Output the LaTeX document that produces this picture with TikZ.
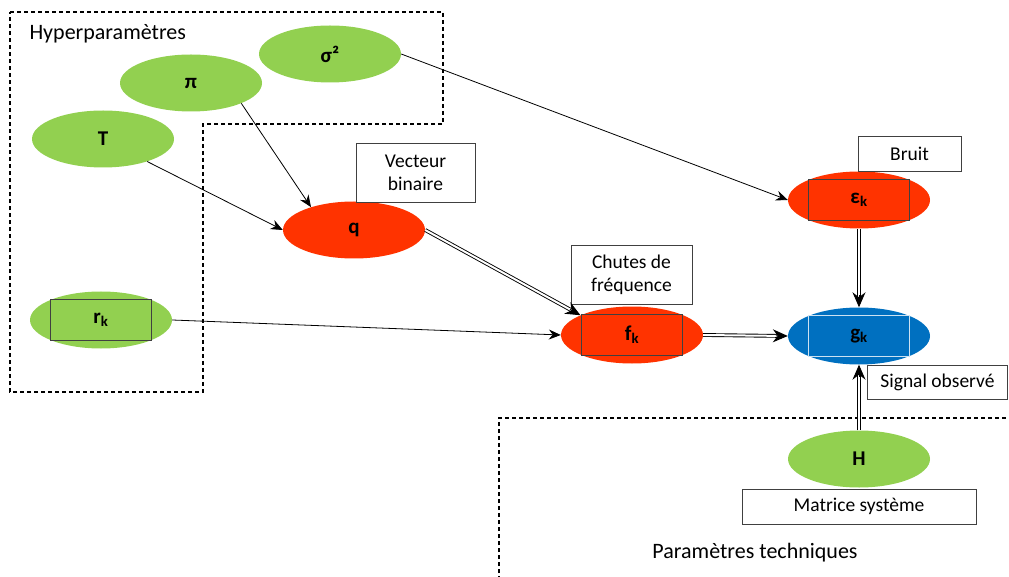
\documentclass[tikz,border=0pt]{standalone}
\usepackage{fontspec}
\setmainfont{Carlito}
\usepackage{tikz}
\usetikzlibrary{positioning, arrows.meta, shapes.geometric, calc}
\definecolor{hypGreen}{HTML}{92D050}
\definecolor{hidRed}{HTML}{FF3300}
\definecolor{obsBlue}{HTML}{0070C0}
\definecolor{boxLine}{HTML}{404040}
\newcommand{\lblsize}{\fontsize{19.5}{23}\selectfont}
\newcommand{\grpsize}{\fontsize{22}{26}\selectfont}
\newcommand{\varsize}{\fontsize{21}{24}\selectfont\bfseries}
% double connector: shortened double line, then the tip on its own
\newcommand{\dbledge}[2]{%
  \draw[dbl] (#1) -- (#2);
  \draw[dbltip] ($(#2)!12pt!(#1)$) -- (#2);}

\begin{document}
\begin{tikzpicture}[x=1pt,y=-1pt,
  var/.style={ellipse, minimum width=142, minimum height=57, inner sep=0pt, font=\varsize},
  hyp/.style={var, fill=hypGreen},
  hid/.style={var, fill=hidRed},
  obs/.style={var, fill=obsBlue, text=white},
  inbox/.style={draw=boxLine, line width=1pt, minimum width=101, minimum height=41, inner sep=0pt, font=\varsize},
  lblbox/.style={draw=boxLine, line width=0.8pt, fill=white, align=center, inner sep=0pt, font=\lblsize},
  grp/.style={dashed, line width=1.1pt, dash pattern=on 4pt off 3pt},
  thin/.style={line width=0.8pt, -{Stealth[length=12pt,width=10pt,inset=4pt]}},
  dbl/.style={double, double distance=2pt, line width=0.9pt, shorten >=9pt},
  dbltip/.style={line width=0.9pt, -{Stealth[length=15pt,width=13pt,inset=5pt]}}]
\useasboundingbox (0,0) rectangle (1009,577);

% groups
\draw[grp] (10,12) -- (443,12) -- (443,124) -- (203,124) -- (203,392) -- (10,392) -- cycle;
\node[font=\grpsize, anchor=west] (hyptxt) at (26,34) {Hyperparamètres};
\draw[grp] (499,580) -- (499,418) -- (1012,418);
\node[font=\grpsize] (techtxt) at (755,553) {Paramètres techniques};

% hyperparameters
\node[hyp] (sigma) at (330,54) {σ²};
\node[hyp] (pi) at (191,83) {π};
\node[hyp] (T) at (103,139) {T};
\node[hyp] (rk) at (101,320) {};
\node[inbox] (rkbox) at (rk) {r\textsubscript{k}};

% hidden and observed variables
\node[hid] (q) at (354,230) {q};
\node[hid] (fk) at (632,335) {};
\node[inbox] (fkbox) at (fk) {f\textsubscript{k}};
\node[hid] (eps) at (859,200) {};
\node[inbox] (epsbox) at (eps) {ε\textsubscript{k}};
\node[obs] (gk) at (859,336) {};
\node[inbox, draw=white!80!obsBlue] (gkbox) at (gk) {g\textsubscript{k}};
\node[hyp] (H) at (859,459) {H};

% labels
\node[lblbox, minimum width=119, minimum height=59] (vec) at (415.5,172.5) {Vecteur\\binaire};
\node[lblbox, minimum width=121, minimum height=59] (chute) at (631.5,274.5) {Chutes de\\fréquence};
\node[lblbox, minimum width=103, minimum height=35] (bruit) at (909.5,153.5) {Bruit};
\node[lblbox, minimum height=34, anchor=west, inner xsep=13pt] (sig) at (867,382) {Signal observé};
\node[lblbox, minimum width=234, minimum height=35] (mat) at (859,506.5) {Matrice système};

% edges
\draw[thin] (sigma.east) -- (eps.west);
\draw[thin] (pi.-22) -- (q.152);
\draw[thin] (T.-27) -- (q.west);
\draw[thin] (rk.east) -- (fk.west);
\dbledge{q.east}{fk.159}
\dbledge{fk.east}{gk.west}
\dbledge{eps.south}{gk.north}
\dbledge{H.north}{gk.south}
\end{tikzpicture}
\end{document}
